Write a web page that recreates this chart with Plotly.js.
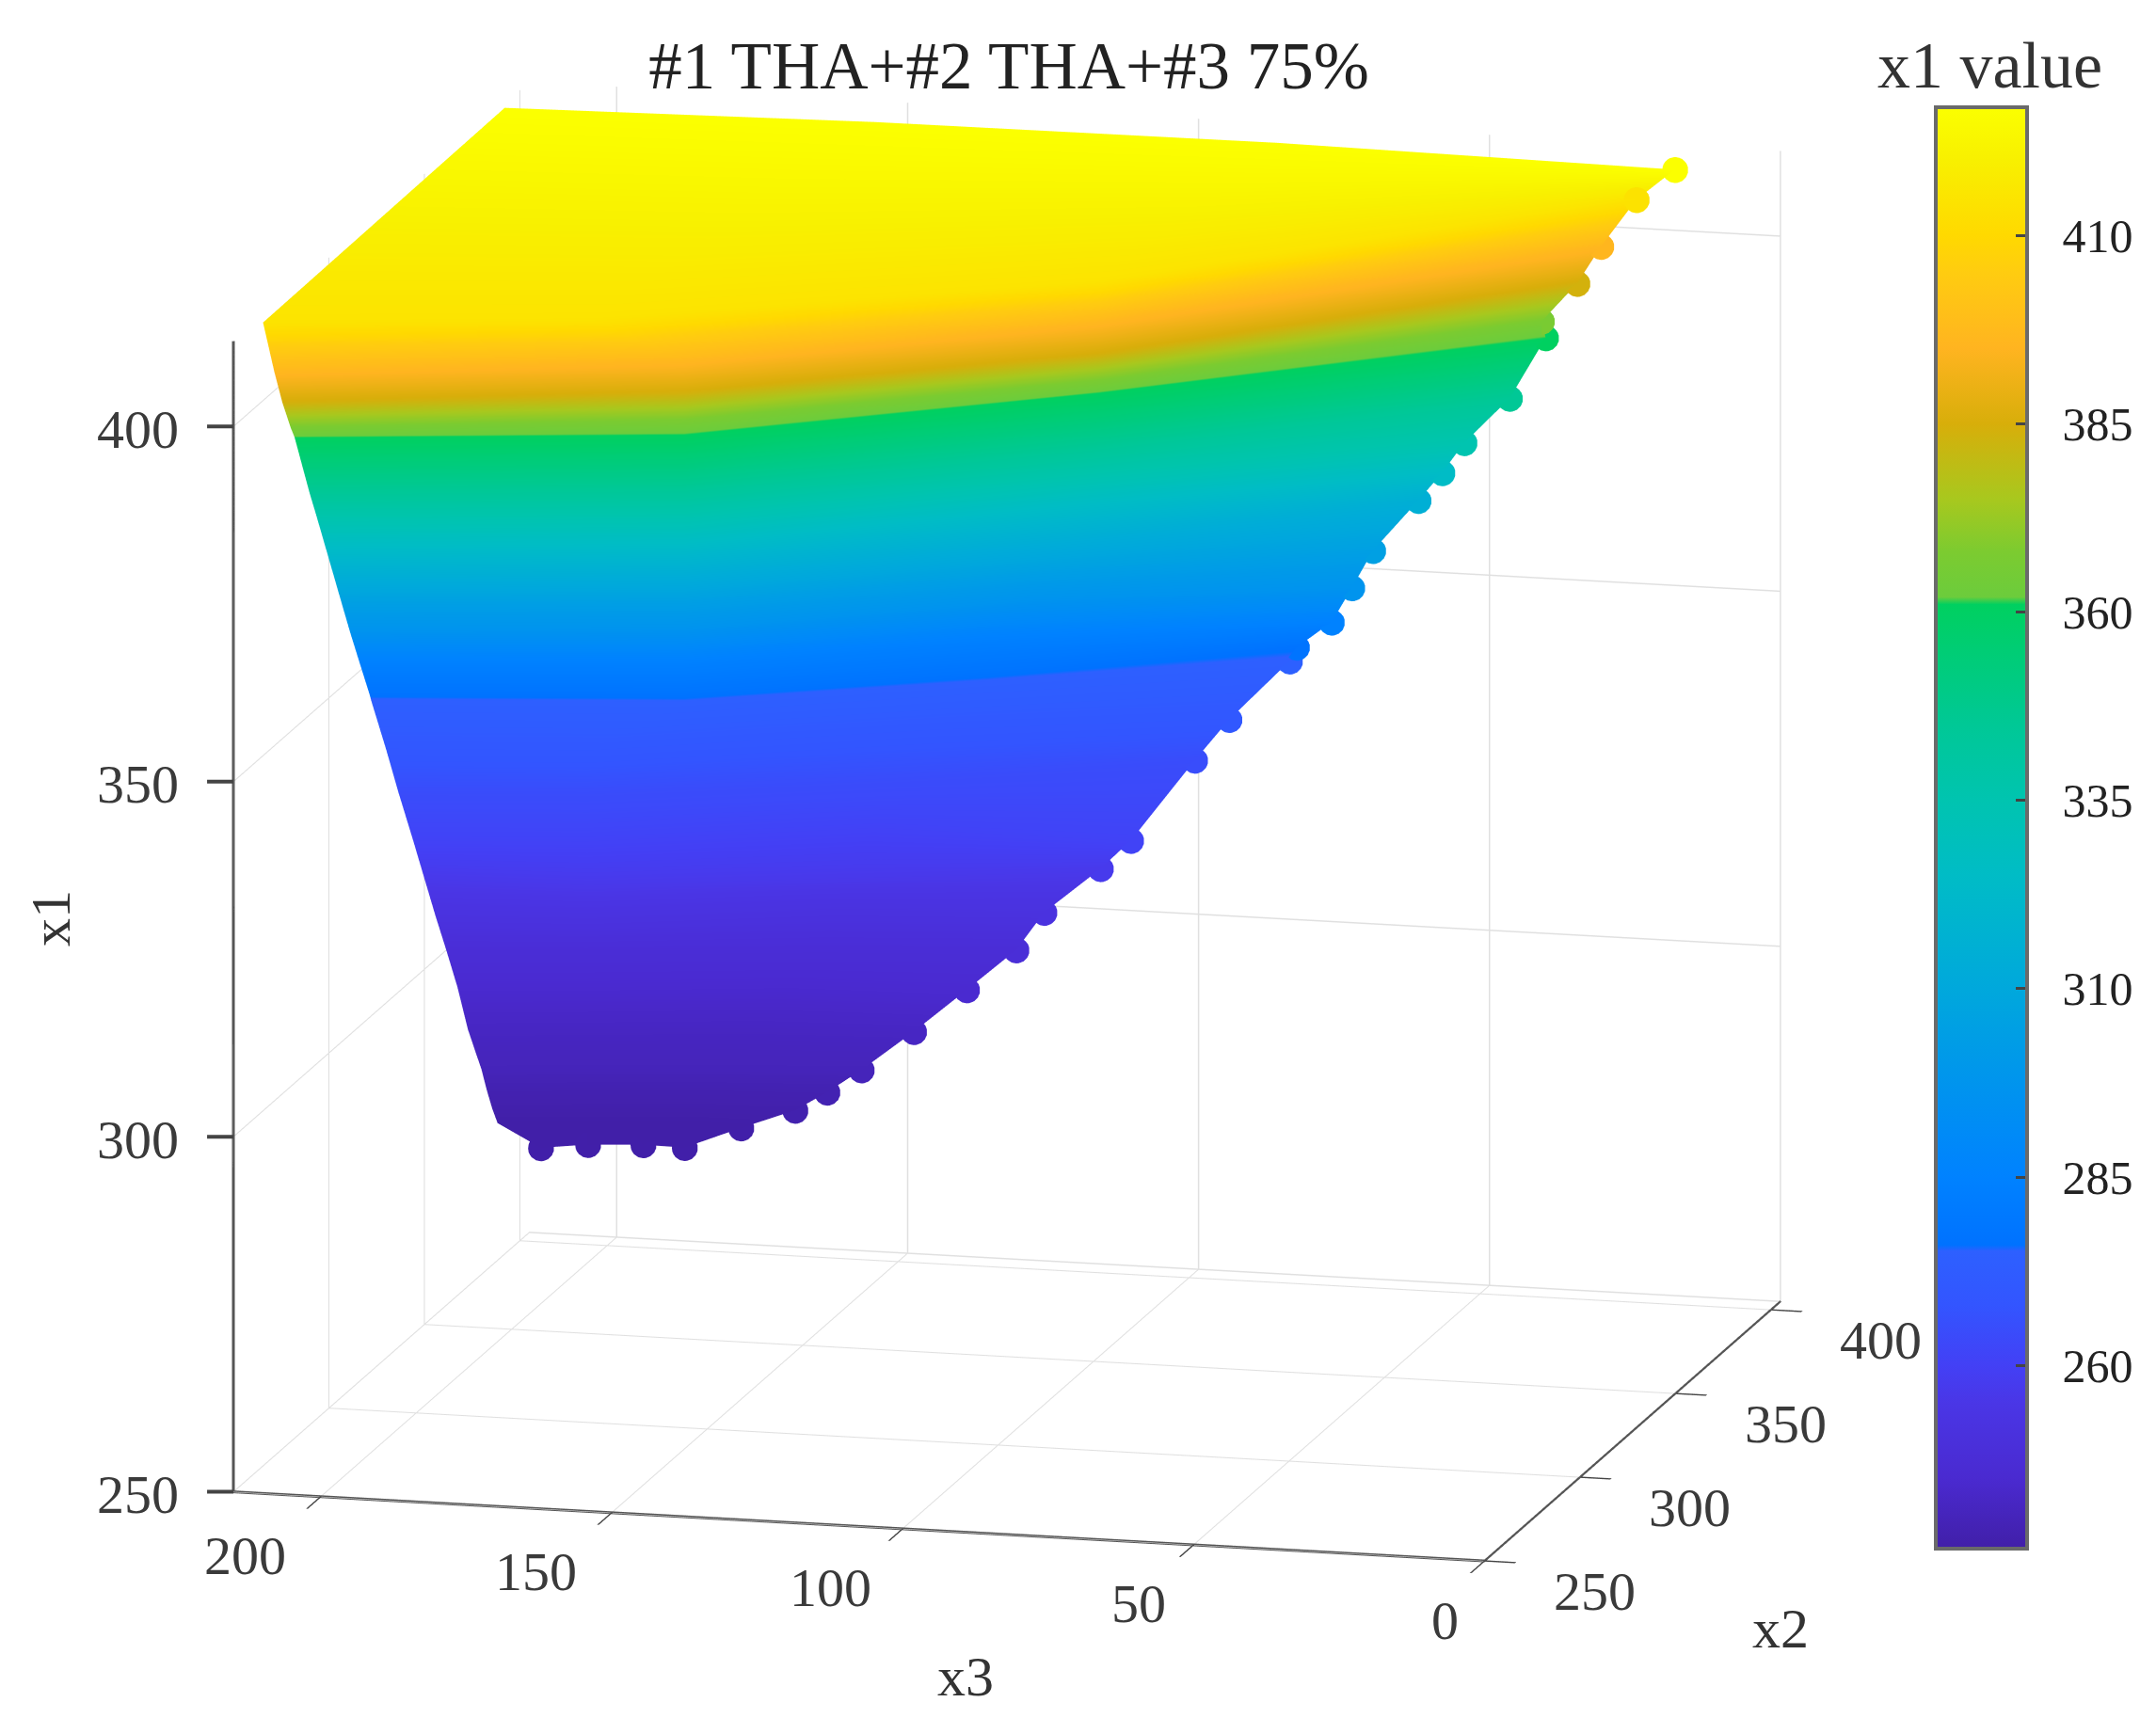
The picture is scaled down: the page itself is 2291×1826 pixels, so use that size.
<!DOCTYPE html>
<html><head><meta charset="utf-8">
<script src="https://cdn.plot.ly/plotly-3.0.1.min.js"></script>
<style>html,body{margin:0;padding:0;background:#fff}#g{width:2291px;height:1826px}</style></head>
<body><div id="g"></div>
<script>
// Each row: left edge, two interior samples, right edge of the point cloud.
const x2Rows = [
[392,397.1,397.9,400],[265.5,277,314.2,377.1],[262.3,350,350,400],[266.5,350,350,400],
[270.8,350,350,400],[272.9,350,350,400],[280.6,350,350,400],[284.9,350,350,400],
[289.1,350,350,400],[293.3,350,350,400],[297.5,350,350,400],[301.8,350,350,400],
[306.7,350,350,400],[312.3,350,350,400],[313,350,350,400],[320.8,350,350,400],
[327.1,350,350,400],[334.9,350,350,400],[340.5,350,350,400],[346.8,350,350,400],
[352.5,350,350,400],[358.1,350,350,400],[363.7,350,350,400],[370.8,350,350,400],
[373.6,350,350,400],[376.4,350,350,400],[379.2,350,350,400],[401.8,350,350,400]];
const x3Rows = [
[215,152.9,84.3,16.5],[215,162.3,87,15.6],[212,170.3,99.05,29.2],[212,170.3,99.05,33.3],
[212,170.3,99.05,39.4],[212,170.3,99.05,38.7],[212,170.3,99.05,44.9],[212,170.3,99.05,52.7],
[212,170.3,103.8,56.5],[212,170.3,103.8,60.6],[212,170.3,108.6,68.4],[212,170.3,110.9,72],
[212,170.3,118.1,75.5],[212,170.3,118.1,81.5],[212,170.3,118.1,82.7],[212,186.9,127.6,93.1],
[212,186.9,134.7,99],[212,186.9,137.1,110],[212,186.9,141.8,115.2],[212,186.9,144.2,124.9],
[212,186.9,146.6,129.7],[212,186.9,151.3,138.2],[212,186.9,158.4,147.3],[212,186.9,163.2,156.3],
[212,186.9,165.6,162.2],[212,186.9,167.9,167.7],[212,186.9,170.3,177],[212,186.9,177.4,186.7]];
const x1Rows = [
[411.4,411,411,409.8],[411,411,411,411],[404.9,387.6,396.3,398.4],[399.6,383.2,391.8,393],
[395.1,379.3,388.1,387.4],[393.2,377.3,386.4,385.1],[383.7,369.7,378.8,376.3],[378.8,365.8,374.7,369.7],
[373.9,361.8,370.2,365.3],[369,357.9,365.9,361.2],[364.1,353.8,360.8,353.8],[359.1,349.9,356.7,348.4],
[353.7,345.4,351.1,343.4],[347.6,340.4,345.8,339.6],[346.7,339.6,344.8,337.6],[338,332,337.6,328.9],
[330.6,326.2,330.5,322.9],[321.9,319.4,323.6,311.1],[315.5,313.5,316.5,306.9],[308.3,308.3,311.6,300.3],
[302.1,303.8,306,294.8],[295.8,298.9,300.9,288.8],[288.4,292.9,294.4,282.5],[281.1,287.3,288.3,276.7],
[277.5,284.3,285.3,273.3],[274.3,281.8,282.7,270.5],[271.6,279.5,280.2,267.6],[262.8,276.6,277,264.4]];
const colourValues = [427,414,396,384,367,361,345,335,325,315,305,297,285,277,275,270,265,261,257,252,248,245,242,240,238,237,236,236];

const cMin = 235.7, cMax = 427;
const stopValues = [235.7,245,255,260,268,275.2,276,285,300,310,325,335,345,361,362,368,375,385,395,405,410,420,427];
const stopColours = ['#411fa8','#4a2ad0','#4a36e6','#4340f5','#3355ff','#2d60ff','#0072ff','#0082ff','#0098ea','#00a8dc','#00bcc6','#00c4b0','#00c896','#00d060','#6ccc3c','#7ccb30','#a8c81e','#d8ae0a','#ffb420','#ffcc10','#ffd900','#f8f000','#fbff00'];
const colourscale = stopValues.map((v,i)=>[(v-cMin)/(cMax-cMin),stopColours[i]]);

const x1Ticks = [250,300,350,400], x2Ticks = [250,300,350,400], x3Ticks = [0,50,100,150,200];
const x3LabelOffsets = [-42,-58,-77,-80,-80];
const barTicks = [260,285,310,335,360,385,410];
const serif = 'Liberation Serif';
// Scene annotations are dropped exactly on the floor plane, so anchor one unit above it and shift back down.
const floorAnchor = 251, floorShift = -7.5;

function axis(vals, range, len){
  return {title:{text:''},
    range:range,tickmode:'array',tickvals:vals,showticklabels:false,
    showbackground:false,showgrid:true,gridcolor:'#e0e0e0',gridwidth:3,
    showline:true,linecolor:'#555',linewidth:6,ticks:len?'outside':'',tickcolor:'#444',ticklen:len,tickwidth:4,
    zeroline:false,showspikes:false,autorange:false};
}
const edgeX=[],edgeY=[],edgeZ=[],edgeC=[];
x2Rows.forEach((r,i)=>{edgeX.push(x2Rows[i][3]);edgeY.push(x3Rows[i][3]);edgeZ.push(x1Rows[i][3]);edgeC.push(colourValues[i]);});
const last=x2Rows.length-1;
[0,1,2].forEach(j=>{edgeX.push(x2Rows[last][j]);edgeY.push(x3Rows[last][j]);edgeZ.push(x1Rows[last][j]);edgeC.push(colourValues[last]);});

const traces=[{
  type:'surface',x:x2Rows,y:x3Rows,z:x1Rows,surfacecolor:x2Rows.map((r,i)=>r.map(()=>colourValues[i])),
  cmin:cMin,cmax:cMax,colorscale:colourscale,showscale:true,hoverinfo:'skip',
  lighting:{ambient:1,diffuse:0,specular:0,fresnel:0,roughness:1},
  contours:{x:{show:false},y:{show:false},z:{show:false}},
  colorbar:{x:2057/2291,xanchor:'left',y:1-114/1826,yanchor:'top',lenmode:'pixels',len:1532,thicknessmode:'pixels',thickness:97,
    outlinecolor:'#6a6a6a',outlinewidth:4,tickmode:'array',tickvals:barTicks,ticktext:barTicks.map(v=>'\u00a0\u00a0'+v),
    ticks:'inside',ticklen:14,tickwidth:3,tickcolor:'#444',tickfont:{family:serif,size:50,color:'#222'},
    ypad:0,xpad:0,title:{text:''}}
},{
  type:'scatter3d',mode:'markers',x:edgeX,y:edgeY,z:edgeZ,hoverinfo:'skip',showlegend:false,
  marker:{size:16,color:edgeC,cmin:cMin,cmax:cMax,colorscale:colourscale,showscale:false,line:{width:0},opacity:1}
}];
const tickLabel=(t,x,y,z,dx,dy)=>({text:String(t),x:x,y:y,z:z,xshift:dx,yshift:dy,showarrow:false,xanchor:'center',yanchor:'middle',font:{family:serif,size:58,color:'#3a3a3a'}});
const lift=v=>v===250?floorAnchor:v, liftShift=v=>v===250?floorShift:0;
const sceneNotes=[
  ...x1Ticks.map(v=>tickLabel(v,250,215,lift(v),-102,liftShift(v)-3)),
  ...x1Ticks.map(v=>({text:' ',x:250,y:215,z:lift(v),yshift:liftShift(v),showarrow:true,arrowhead:0,arrowwidth:4,arrowcolor:'#444',ax:-30,ay:0,standoff:0,font:{size:4}})),
  ...x2Ticks.map(v=>tickLabel(v,v,0,floorAnchor,117,-32+floorShift)),
  ...x3Ticks.map((v,i)=>tickLabel(v,250,v,floorAnchor,x3LabelOffsets[i],-63+floorShift))
];
const note=(t,px,py,a)=>({text:t,xref:'paper',yref:'paper',x:px/2291,y:1-py/1826,xanchor:'center',yanchor:'middle',showarrow:false,textangle:a||0,font:{family:serif,size:a===undefined?70:60,color:'#333'}});
const layout={width:2291,height:1826,margin:{l:0,r:0,t:0,b:0},paper_bgcolor:'#fff',showlegend:false,hovermode:false,
  title:{text:'#1 THA+#2 THA+#3 75%',x:1072/2291,xanchor:'center',xref:'paper',y:1-69/1826,yanchor:'middle',yref:'container',font:{family:serif,size:71,color:'#222'}},
  annotations:[note('x1 value',2114,70),note('x1',54,976,-90),note('x2',1892,1731,0),note('x3',1026,1782,0)],
  scene:{domain:{x:[0,2140/2291],y:[80/1826,1]},aspectmode:'manual',aspectratio:{x:1.48,y:1.57,z:1.436},
    camera:{projection:{type:'orthographic'},eye:{x:-1.307,y:-0.328,z:0.304},center:{x:0,y:0,z:0},up:{x:0,y:0,z:1}},
    annotations:sceneNotes,
    xaxis:axis(x2Ticks,[250,405],60),yaxis:axis(x3Ticks,[0,215],34),zaxis:axis(x1Ticks,[250,412],0)}
};
Plotly.newPlot('g',traces,layout,{displayModeBar:false});
</script></body></html>
